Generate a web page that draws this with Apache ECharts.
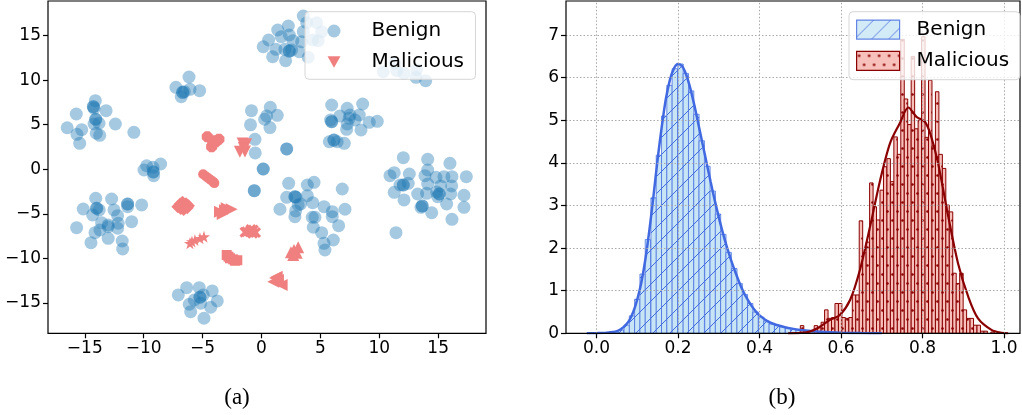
<!DOCTYPE html>
<html><head><meta charset="utf-8">
<script src="https://cdn.jsdelivr.net/npm/echarts@6/dist/echarts.min.js"></script>
<style>html,body{margin:0;padding:0;background:#fff}#c{width:1022px;height:415px}</style>
</head><body><div id="c"></div>
<script>
// ---------- panel (a): t-SNE scatter ----------
const benign = [
  [-16.49,4.66],[-15.72,6.20],[-15.66,3.92],[-15.26,4.44],[-15.43,2.91],[-14.27,7.02],[-14.27,7.02],[-14.21,6.84],[-14.10,7.69],
  [-14.21,5.08],[-14.07,5.61],[-14.07,5.61],[-13.79,5.16],[-14.02,4.04],[-13.73,3.81],[-13.19,6.57],[-12.40,5.08],[-10.83,4.15],
  [-9.97,-0.08],[-9.75,0.40],[-9.21,0.22],[-9.18,-0.30],[-9.18,-0.30],[-9.15,-0.72],[-8.56,0.59],
  [-7.26,9.19],[-6.81,8.14],[-6.69,8.63],[-6.69,8.63],[-6.55,8.70],[-6.15,10.35],[-6.07,8.97],[-5.25,8.81],
  [-0.85,6.57],[0.75,6.95],[0.44,5.98],[1.34,6.05],[0.27,5.61],[-0.93,4.99],[0.72,4.68],[-0.55,3.36],[-0.53,1.83],
  [2.14,2.28],[2.14,2.28],[0.15,0.03],[0.15,0.03],
  [3.55,17.19],[1.38,15.62],[2.28,16.07],[0.61,14.50],[1.68,14.87],[2.36,15.06],[2.67,14.42],[0.15,13.74],[1.23,13.45],
  [1.99,13.45],[2.36,13.26],[2.36,13.26],[2.56,13.37],[3.21,13.18],[0.95,12.62],[2.05,12.17],[3.41,14.30],[3.55,15.43],
  [3.84,16.43],[4.69,16.43],[5.11,15.43],[4.82,14.42],[4.35,14.50],[3.97,12.56],
  [10.34,10.94],[11.33,11.88],[11.48,11.05],[12.10,10.76],[13.12,10.31],[13.94,9.93],[13.17,11.17],
  [5.96,7.21],[7.28,6.84],[8.59,7.32],[6.66,5.98],[7.51,6.09],[8.30,6.09],[5.87,5.53],[5.96,5.34],[5.96,5.34],[7.94,5.53],
  [7.28,5.08],[9.15,5.27],[9.83,5.38],[7.23,4.48],[8.45,4.41],[5.76,3.09],[6.15,3.28],[6.15,3.28],[6.43,3.09],[7.03,2.91],[7.45,5.72],
  [2.31,-1.57],[2.14,-3.14],[2.84,-3.07],[2.84,-3.07],[2.93,-3.14],[3.33,-3.89],[3.12,-4.00],[1.57,-4.48],[2.90,-4.67],[2.84,-5.31],
  [3.89,-1.76],[4.46,-1.46],[3.89,-2.96],[4.35,-3.74],[5.31,-4.19],[4.31,-5.38],[4.54,-5.38],[6.01,-4.75],[6.01,-5.31],[6.86,-2.21],
  [7.09,-4.48],[4.40,-6.50],[6.55,-6.32],[5.11,-7.11],[5.31,-8.30],[6.10,-7.93],[5.39,-9.05],[-0.61,-2.40],[-0.61,-2.40],
  [10.91,-0.72],[11.27,-0.38],[12.55,-0.53],[13.88,-0.72],[14.11,-0.08],[14.81,-0.90],[15.49,-0.83],[16.17,-0.83],[17.39,-0.83],
  [11.76,-1.76],[12.04,-1.76],[12.04,-1.76],[12.46,-1.57],[14.11,-1.65],[15.21,-1.87],[16.15,-1.87],[11.27,-2.58],[13.26,-2.77],
  [14.02,-2.69],[14.87,-2.54],[15.09,-2.77],[15.09,-2.77],[14.96,-3.07],[16.06,-2.77],[17.19,-2.91],[12.10,-3.44],[13.65,-4.11],
  [13.65,-4.11],[13.54,-4.26],[14.45,-4.87],[15.72,-3.89],[17.19,-4.26],[16.17,-5.61],[11.42,-7.11],[12.04,1.30],[14.11,1.12],[16.00,0.67],
  [-15.13,-4.45],[-14.07,-3.25],[-13.99,-4.37],[-13.99,-4.37],[-13.77,-4.56],[-14.33,-5.12],[-15.69,-6.55],[-13.57,-5.99],[-14.13,-7.11],
  [-13.71,-6.80],[-14.47,-8.23],[-13.01,-7.74],[-13.01,-6.44],[-13.01,-6.24],[-12.72,-3.33],[-12.52,-4.56],[-12.21,-5.20],[-12.16,-6.05],
  [-12.21,-6.61],[-11.36,-3.89],[-11.36,-3.89],[-11.36,-4.19],[-11.02,-5.87],[-10.17,-4.00],[-11.82,-8.04],[-11.78,-8.94],
  [-7.06,-14.09],[-6.35,-13.27],[-6.13,-15.13],[-6.01,-15.96],[-5.70,-14.65],[-5.28,-13.27],[-5.22,-14.35],[-5.22,-14.35],
  [-5.16,-15.02],[-4.94,-14.09],[-4.88,-16.70],[-4.31,-15.47],[-4.18,-13.64],[-3.75,-14.76]
];
const malTriDown  = [[-1.6,2.9],[-1.3,2.8],[-1.4,2.0],[-1.83,1.97],[-1.5,2.4]];
const malOctagon  = [[-4.6,3.65],[-4.14,2.83],[-4.23,2.53],[-3.86,3.09],[-3.61,3.36],[-4.0,3.2]];
const malCircle   = [[-4.95,-0.55],[-4.7,-0.8],[-4.5,-1.0],[-4.3,-1.2],[-4.1,-1.4],[-4.0,-1.55]];
const malDiamond  = [[-7.1,-4.2],[-6.9,-3.9],[-6.7,-3.7],[-6.5,-4.0],[-6.3,-4.3],[-6.6,-4.5],[-6.85,-4.4],[-6.4,-3.85],[-6.2,-4.1]];
const malTriRight = [[-3.52,-4.75],[-2.95,-4.37],[-2.53,-4.48],[-3.29,-5.0],[-3.1,-4.6],[-2.8,-4.55]];
const malStar     = [[-6.07,-8.30],[-5.65,-7.93],[-5.22,-7.74],[-4.88,-7.56],[-5.9,-8.1]];
const malSquare   = [[-2.95,-9.61],[-2.8,-9.8],[-2.67,-9.98],[-2.4,-10.1],[-2.25,-10.25],[-2.05,-10.2]];
const malX        = [[-1.26,-7.0],[-1.4,-7.05],[-1.0,-7.0],[-0.9,-6.75],[-0.7,-6.8],[-0.75,-7.18],[-0.5,-7.1]];
const malTriUp    = [[2.76,-9.05],[3.12,-8.74],[2.70,-9.61],[2.99,-9.35],[2.5,-9.3]];
const malTriLeft  = [[1.29,-12.04],[1.0,-12.6],[1.71,-12.97],[1.4,-12.4],[1.15,-12.2]];
const ticksA_x = [-15,-10,-5,0,5,10,15];
const ticksA_y = [-15,-10,-5,0,5,10,15];

// ---------- panel (b): score histograms ----------
const benignBinCenters = [0.034,0.047,0.060,0.074,0.087,0.100,0.113,0.126,0.140,0.153,0.166,0.179,0.192,0.206,0.219,0.232,0.245,0.258,0.272,0.285,0.298,0.311,0.324,0.338,0.351,0.364,0.377,0.390,0.404,0.417,0.430,0.443,0.456,0.470,0.483,0.496,0.509,0.522,0.536,0.549,0.562,0.575,0.588];
const benignDensity = [0.01,0.03,0.08,0.19,0.41,0.80,1.39,2.20,3.18,4.18,5.10,5.82,6.21,6.32,6.10,5.69,5.14,4.52,3.92,3.34,2.80,2.32,1.90,1.52,1.17,0.91,0.70,0.50,0.38,0.29,0.22,0.18,0.15,0.12,0.10,0.08,0.06,0.05,0.04,0.03,0.02,0.02,0.01];
const benignBinWidth = 0.0132;
const malBinLeft = [0.5000,0.5340,0.5425,0.5510,0.5595,0.5680,0.5765,0.5850,0.5935,0.6020,0.6105,0.6190,0.6275,0.6360,0.6445,0.6530,0.6615,0.6700,0.6785,0.6870,0.6955,0.7040,0.7125,0.7210,0.7295,0.7380,0.7465,0.7550,0.7635,0.7720,0.7805,0.7890,0.7975,0.8060,0.8145,0.8230,0.8315,0.8400,0.8485,0.8570,0.8655,0.8740,0.8825,0.8910,0.8995,0.9080,0.9165,0.9250,0.9335,0.9420,0.9505,0.9675];
const malDensity = [0.18,0.18,0.13,0.26,0.55,0.35,0.37,0.70,0.70,0.37,0.35,0.37,0.90,0.90,2.64,1.89,2.14,3.53,2.97,2.66,3.36,3.91,4.10,3.56,4.61,4.20,6.90,5.50,4.90,6.50,4.80,5.00,6.96,4.60,5.94,4.40,5.67,4.20,3.87,3.01,2.85,1.41,1.17,1.41,0.55,0.35,0.35,0.19,0.19,0.05,0.05,0.03];
const malBinWidth = 0.0085;
const benignKde = [[-0.024,0.0],[0.0,0.004],[0.02,0.01],[0.04,0.03],[0.05,0.05],[0.06,0.1],[0.07,0.18],[0.08,0.3],[0.09,0.5],[0.10,0.8],[0.11,1.2],[0.12,1.75],[0.13,2.45],[0.14,3.25],[0.15,4.1],[0.16,4.85],[0.17,5.5],[0.18,5.95],[0.19,6.22],[0.20,6.32],[0.21,6.27],[0.22,6.07],[0.23,5.75],[0.24,5.35],[0.25,4.9],[0.26,4.45],[0.27,4.0],[0.28,3.55],[0.29,3.12],[0.30,2.72],[0.31,2.35],[0.32,2.02],[0.33,1.72],[0.34,1.45],[0.35,1.2],[0.36,0.98],[0.37,0.8],[0.38,0.65],[0.39,0.52],[0.40,0.42],[0.42,0.28],[0.44,0.2],[0.46,0.15],[0.48,0.11],[0.50,0.08],[0.52,0.06],[0.55,0.035],[0.60,0.015],[0.65,0.005],[0.70,0.0]];
const malKde = [[0.47,0.0],[0.50,0.01],[0.523,0.04],[0.548,0.155],[0.572,0.31],[0.597,0.43],[0.622,0.78],[0.646,1.48],[0.671,2.50],[0.695,3.56],[0.720,4.46],[0.744,4.93],[0.765,5.30],[0.785,5.08],[0.806,4.96],[0.82,4.65],[0.838,3.99],[0.863,2.74],[0.887,1.64],[0.912,0.86],[0.936,0.35],[0.969,0.08],[0.994,0.01],[1.01,0.0]];
const ticksB_x = [0.0,0.2,0.4,0.6,0.8,1.0];
const ticksB_y = [0,1,2,3,4,5,6,7];
const panelLabels = ['(a)','(b)'];

// ---------- styling helpers ----------
const FONT = 'DejaVu Sans';
const BLUE_PT = 'rgba(31,119,180,0.5)';
const CORAL = '#f08080';
function makeHatch(){
  const s=17, c=document.createElement('canvas'); c.width=s; c.height=s;
  const g=c.getContext('2d'); g.fillStyle='#c8e5f5'; g.fillRect(0,0,s,s);
  g.strokeStyle='#4169e1'; g.lineWidth=1; g.beginPath();
  g.moveTo(-1,s+1); g.lineTo(s+1,-1); g.moveTo(-2,2); g.lineTo(2,-2); g.moveTo(s-2,s+2); g.lineTo(s+2,s-2); g.stroke();
  return c;
}
function makeDots(){
  const w=10, h=18, c=document.createElement('canvas'); c.width=w; c.height=h;
  const g=c.getContext('2d'); g.fillStyle='#f7c0bb'; g.fillRect(0,0,w,h);
  g.fillStyle='#8b0000';
  g.beginPath(); g.arc(2.5,4.5,1.3,0,Math.PI*2); g.fill();
  g.beginPath(); g.arc(7.5,13.5,1.3,0,Math.PI*2); g.fill();
  return c;
}
const hatchPat = {image: makeHatch(), repeat:'repeat'};
const dotPat = {image: makeDots(), repeat:'repeat'};
const minusFmt = v => (v<0 ? '\u2212'+Math.abs(v) : String(v));

const triDownPath = 'path://M0,0 L100,0 L50,87 Z';
const triLeftPath = 'path://M0,50 L87,0 L87,100 Z';
const triRightPath = 'path://M0,0 L87,50 L0,100 Z';
const starPath = 'path://M50,0 L61,35 L98,35 L68,57 L79,91 L50,70 L21,91 L32,57 L2,35 L39,35 Z';
const xPath = 'path://M20,0 L50,30 L80,0 L100,20 L70,50 L100,80 L80,100 L50,70 L20,100 L0,80 L30,50 L0,20 Z';
const octPath = 'path://M30,0 L70,0 L100,30 L100,70 L70,100 L30,100 L0,70 L0,30 Z';

function malSeries(data, symbol, size){
  return {type:'scatter', name:'Malicious', xAxisIndex:0, yAxisIndex:0, data, symbol, symbolSize:size,
    itemStyle:{color:CORAL, opacity:1}, z:3, silent:true};
}
function axisCommon(ticks, fmt, margin){
  return {
    axisLine:{show:false, onZero:false},
    axisTick:{show:true, inside:false, customValues:ticks, length:5, lineStyle:{color:'#000', width:1.2}},
    axisLabel:{customValues:ticks, formatter:fmt, color:'#000', fontSize:17, fontFamily:FONT, margin:margin},
    splitLine:{show:false}
  };
}
function histRender(width){
  return function(params, api){
    const c = api.value(0), h = api.value(1);
    const p0 = api.coord([c - width/2, h]);
    const p1 = api.coord([c + width/2, 0]);
    return {type:'rect', shape:{x:p0[0], y:p0[1], width:p1[0]-p0[0], height:p1[1]-p0[1]}, style:api.style()};
  };
}

const chart = echarts.init(document.getElementById('c'), null, {renderer:'canvas'});
const option = {
  animation:false,
  backgroundColor:'#fff',
  grid:[
    {left:48, top:1, width:438, height:332.3, show:true, borderColor:'#000', borderWidth:1.2, backgroundColor:'transparent', z:10},
    {left:566, top:1, width:454, height:332.3, show:true, borderColor:'#000', borderWidth:1.2, backgroundColor:'transparent', z:10}
  ],
  xAxis:[
    Object.assign({gridIndex:0, type:'value', min:-18.12, max:19.06, position:'bottom'}, axisCommon(ticksA_x, minusFmt, 7)),
    Object.assign({gridIndex:1, type:'value', min:-0.075, max:1.039, position:'bottom'}, axisCommon(ticksB_x, v=>v.toFixed(1), 7))
  ],
  yAxis:[
    Object.assign({gridIndex:0, type:'value', min:-18.39, max:18.87, position:'left'}, axisCommon(ticksA_y, minusFmt, 7)),
    Object.assign({gridIndex:1, type:'value', min:0, max:7.8, position:'left'}, axisCommon(ticksB_y, v=>String(v), 7))
  ],
  legend:[
    {left:305, top:11.7, orient:'vertical', selectedMode:false, itemWidth:13, itemHeight:13, itemGap:11,
     padding:[9.3,11.5,7.3,22.5], backgroundColor:'rgba(255,255,255,0.8)', borderColor:'#d6d6d6', borderWidth:1, borderRadius:4,
     textStyle:{fontSize:20, fontFamily:FONT, color:'#000', padding:[0,0,0,26]}, z:20,
     data:[{name:'Benign', icon:'circle', itemStyle:{color:BLUE_PT, borderWidth:0}},
           {name:'Malicious', icon:triDownPath, itemStyle:{color:CORAL, borderWidth:0}}]},
    {left:849, top:11.7, orient:'vertical', selectedMode:false, itemWidth:43, itemHeight:19, itemGap:11,
     padding:[7.8,10.8,8.8,7], backgroundColor:'rgba(255,255,255,0.8)', borderColor:'#d6d6d6', borderWidth:1, borderRadius:4,
     textStyle:{fontSize:20, fontFamily:FONT, color:'#000', padding:[0,0,0,12]}, z:20,
     data:[{name:'Benign', icon:'rect', itemStyle:{color:hatchPat, borderColor:'#4169e1', borderWidth:1.2}},
           {name:'Malicious', icon:'rect', itemStyle:{color:dotPat, borderColor:'#8b0000', borderWidth:1.2}}]}
  ],
  graphic:[
    {type:'text', x:237, y:398, style:{text:panelLabels[0], fontSize:23, fontFamily:'Liberation Serif', fill:'#000', align:'center', verticalAlign:'middle'}},
    {type:'text', x:782, y:398, style:{text:panelLabels[1], fontSize:23, fontFamily:'Liberation Serif', fill:'#000', align:'center', verticalAlign:'middle'}}
  ],
  series:[
    {type:'scatter', name:'Benign', xAxisIndex:0, yAxisIndex:0, data:benign, symbol:'circle', symbolSize:13,
     itemStyle:{color:BLUE_PT}, z:2, silent:true},
    malSeries(malTriDown, triDownPath, 12),
    malSeries(malOctagon, octPath, 11),
    malSeries(malCircle, 'circle', 10),
    malSeries(malDiamond, 'diamond', 13),
    malSeries(malTriRight, triRightPath, 12),
    malSeries(malStar, starPath, 12),
    malSeries(malSquare, 'rect', 10),
    malSeries(malX, xPath, 11),
    malSeries(malTriUp, 'triangle', 12),
    malSeries(malTriLeft, triLeftPath, 12),
    {type:'custom', name:'Benign', xAxisIndex:1, yAxisIndex:1, silent:true, z:2,
     data: benignBinCenters.map((c,i)=>[c, benignDensity[i]]), encode:{x:0,y:1},
     renderItem: histRender(benignBinWidth),
     itemStyle:{color:hatchPat, borderColor:'rgba(65,105,225,0.75)', borderWidth:1}},
    {type:'custom', name:'Malicious', xAxisIndex:1, yAxisIndex:1, silent:true, z:2,
     data: malBinLeft.map((l,i)=>[l + malBinWidth/2, malDensity[i]]), encode:{x:0,y:1},
     renderItem: histRender(malBinWidth),
     itemStyle:{color:dotPat, borderColor:'#8b0000', borderWidth:1}},
    {type:'line', xAxisIndex:1, yAxisIndex:1, data:[], z:3, silent:true,
     markLine:{silent:true, symbol:'none', label:{show:false}, animation:false,
       lineStyle:{color:'#a8a8a8', type:[1.5,2], width:1},
       data: ticksB_x.map(v=>({xAxis:v})).concat(ticksB_y.filter(v=>v>0).map(v=>({yAxis:v})))}},
    {type:'line', xAxisIndex:1, yAxisIndex:1, data:benignKde, symbol:'none', smooth:0.3, silent:true, z:4,
     lineStyle:{color:'#4169e1', width:2.5}},
    {type:'line', xAxisIndex:1, yAxisIndex:1, data:malKde, symbol:'none', smooth:0.3, silent:true, z:4,
     lineStyle:{color:'#8b0000', width:2.2}}
  ]
};
chart.setOption(option);
</script></body></html>
